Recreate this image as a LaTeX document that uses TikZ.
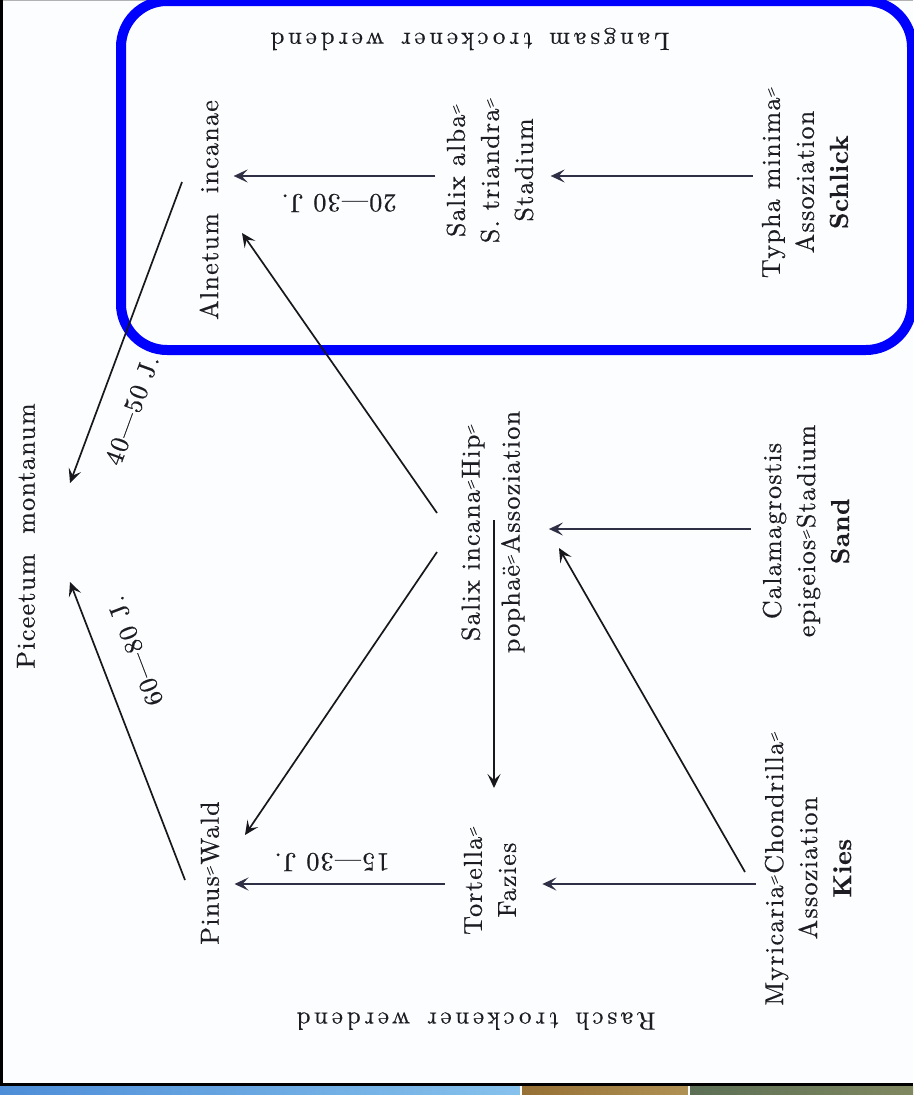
\documentclass[tikz,border=0pt]{standalone}
\usepackage{fontspec}
\usetikzlibrary{arrows.meta,calc}

% Letter-spaced book face for the plant community names
\newfontfamily\printface{lmroman10-regular.otf}[LetterSpace=5.0,FakeBold=0.5,BoldFont=lmroman10-bold.otf,BoldFeatures={LetterSpace=2.0,FakeBold=0.3}]
\newfontfamily\sideface{lmroman10-regular.otf}[LetterSpace=15.0,WordSpace=1.4,FakeBold=0.4]
% small oblique double hyphen used in the compound names
\newcommand{\dhy}{\raisebox{0.25ex}{\rotatebox{22}{\scalebox{0.5}[0.62]{=}}}}

\definecolor{paper}{HTML}{FBFDFE}
\definecolor{ink}{HTML}{1C1C22}
\definecolor{arrowink}{HTML}{2F3046}
\definecolor{lineink}{HTML}{18181C}
\definecolor{frameblue}{HTML}{0000FF}

\tikzset{
  community/.style={font=\printface\fontsize{26}{34}\selectfont, text=ink, inner sep=0pt, align=center, rotate=90},
  span/.style={font=\printface\fontsize{26}{30}\selectfont, text=ink, inner sep=0pt},
  gradient/.style={font=\sideface\fontsize{25}{30}\selectfont, text=ink, inner sep=0pt, rotate=180},
  succession/.style={draw=arrowink, line width=2.4pt, -{Stealth[length=14pt,width=13pt,inset=6pt]}},
  shift line/.style={draw=lineink, line width=1.7pt, -{Stealth[length=14pt,width=13pt,inset=6pt]}},
}

\begin{document}
\begin{tikzpicture}[x=1pt,y=-1pt]
\path[use as bounding box] (0,0) rectangle (913,1095);

% page and its frame
\fill[paper] (0,0) rectangle (913,1084);
\draw[gray!60, line width=1pt] (0,0.5) -- (913,0.5);
\draw[black, line width=3pt] (1.5,0) -- (1.5,1085);
\draw[black, line width=3pt] (0,1084) -- (913,1084);
\shade[left color={rgb,255:red,78;green,142;blue,216}, right color={rgb,255:red,134;green,194;blue,236}] (0,1086) rectangle (520,1095);
\fill[white] (520,1086) rectangle (522,1095);
\shade[left color={rgb,255:red,150;green,112;blue,52}, right color={rgb,255:red,176;green,146;blue,84}] (522,1086) rectangle (688,1095);
\fill[white] (688,1086) rectangle (690,1095);
\shade[left color={rgb,255:red,92;green,112;blue,86}, right color={rgb,255:red,128;green,136;blue,96}] (690,1086) rectangle (913,1095);

% highlight around the slow-drying series
\draw[frameblue, line width=10pt, rounded corners=46pt] (121,1) rectangle (912,350);

% side captions
\node[gradient] (slow) at (470,39) {Langsam trockener werdend};
\node[gradient] (fast) at (476,1021) {Rasch trockener werdend};

% plant communities
\node[community] (pic) at (26,536) {Piceetum\ \ montanum};
\node[community] (aln) at (209,210) {Alnetum\ \ incanae};
\node[community] (pinus) at (210,873) {Pinus\dhy Wald};
\node[community] (salba) at (490,170) {Salix alba\dhy\\S. triandra\dhy\\Stadium};
\node[community] (sinc) at (493,532) {Salix incana\dhy Hip\dhy\\[6pt]pophaë\dhy Assoziation};
\node[community] (tort) at (490,880) {Tortella\dhy\\Fazies};
\node[community] (typha) at (805,182) {Typha minima\dhy\\Assoziation\\\textbf{Schlick}};
\node[community] (calam) at (806,531) {Calamagrostis\\epigeios\dhy Stadium\\\textbf{Sand}};
\node[community] (myr) at (808,868) {Myricaria\dhy Chondrilla\dhy\\Assoziation\\\textbf{Kies}};

% rows of the horizontal successions
\coordinate (row1) at (0,176);
\coordinate (row2) at (0,529);
\coordinate (row3) at (0,884);

\draw[succession, shorten <=9pt, shorten >=17pt] (typha.north |- row1) -- (salba.south |- row1);
\draw[succession, shorten <=11pt, shorten >=15pt] (salba.north |- row1) -- (aln.south |- row1);
\draw[succession, shorten <=12pt, shorten >=24pt] (calam.north |- row2) -- (sinc.south |- row2);
\draw[succession, shorten <=9pt, shorten >=26pt] (myr.north |- row3) -- (tort.south |- row3);
\draw[succession, shorten <=19pt, shorten >=15pt] (tort.north |- row3) -- (pinus.south |- row3);

% end points of the oblique transitions
\coordinate (aln-out) at (182,182);
\coordinate (pic-in1) at (70,483);
\coordinate (pinus-out) at (185,880);
\coordinate (pic-in2) at (70,582);
\coordinate (sinc-up) at (437,513);
\coordinate (aln-in) at (242,233);
\coordinate (sinc-down) at (437,552);
\coordinate (pinus-in) at (245,835);
\coordinate (sinc-mid) at (494,520);
\coordinate (tort-in) at (494,788);
\coordinate (myr-out) at (745,872);
\coordinate (sinc-in) at (559,548);

\draw[shift line] (aln-out) -- (pic-in1);
\draw[shift line] (pinus-out) -- (pic-in2);
\draw[shift line] (sinc-up) -- (aln-in);
\draw[shift line] (sinc-down) -- (pinus-in);
\draw[shift line] (sinc-mid) -- (tort-in);
\draw[shift line] (myr-out) -- (sinc-in);

% durations
\node[span, rotate=180] (d1) at (339,203) {20—30 J.};
\node[span, rotate=180] (d2) at (332,862) {15—30 J.};
\node[span, rotate=70] (d3) at (132,410) {40—50 J.};
\node[span, rotate=111] (d4) at (135,651) {60—80 J.};
\end{tikzpicture}
\end{document}
